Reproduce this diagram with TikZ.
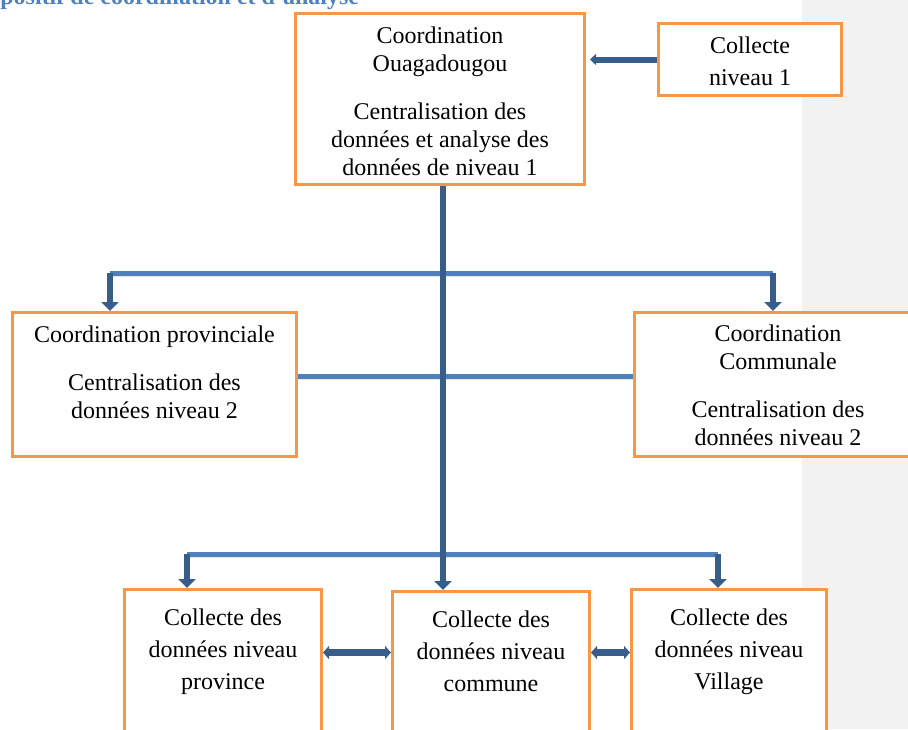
\documentclass[tikz,border=0pt]{standalone}
\usepackage{fontspec}
\setmainfont{Liberation Serif}
\usepackage{tikz}
\usetikzlibrary{arrows.meta,positioning}
\usepackage{xcolor}
\definecolor{boxorange}{HTML}{F79646}
\definecolor{darkblue}{HTML}{385D8A}
\definecolor{lightblue}{HTML}{4F81BD}
\definecolor{titleblue}{HTML}{4F81BD}
\definecolor{stripgray}{HTML}{F2F2F2}
\tikzstyle{orangebox} = [draw=boxorange, fill=white, line width=1.5pt,
    rectangle, anchor=north west, inner sep=0]
\tikzstyle{boxtext} = [align=center, inner sep=0, font=\fontsize{12}{14}\selectfont]
\tikzstyle{collecttext} = [align=center, inner sep=0, font=\fontsize{12}{16}\selectfont]
\tikzstyle{bluelink} = [draw=lightblue, line width=2.5pt,
    preaction={draw=black!10, transform canvas={yshift=-1.5pt}}]
\tikzstyle{darkarrow} = [draw=darkblue, line width=3pt, -{Triangle[width=8.5pt,length=4.5pt]}]
\tikzstyle{sidearrow} = [draw=darkblue, line width=3pt, -{Triangle[width=5.5pt,length=3pt]}]
\tikzstyle{darklink} = [draw=darkblue, line width=3.25pt,
    {Triangle[width=6.5pt,length=3pt]}-{Triangle[width=6.5pt,length=3pt]}]
\tikzstyle{fancytitle} = [anchor=base west, inner sep=0, text=titleblue,
    font=\fontsize{12}{14}\selectfont\bfseries]

\begin{document}
\begin{tikzpicture}[x=0.5pt, y=-0.5pt]
    \useasboundingbox (0,0) rectangle (908,729);
    \fill[stripgray] (802,0) rectangle (908,729);
    \node[fancytitle] (title) at (0,4.5) {positif de coordination et d'analyse};

    \node[orangebox, minimum width=144.5pt, minimum height=85.5pt] (ouaga) at (294,12) {};
    \node[orangebox, minimum width=91.5pt, minimum height=36pt] (coll1) at (657,22) {};
    \node[orangebox, minimum width=142pt, minimum height=72pt] (prov) at (11,311) {};
    \node[orangebox, minimum width=143.5pt, minimum height=72pt] (commun) at (633,311) {};
    \node[orangebox, minimum width=98.5pt, minimum height=96pt] (bprov) at (123,588) {};
    \node[orangebox, minimum width=98.5pt, minimum height=95pt] (bcomm) at (391,590) {};
    \node[orangebox, minimum width=97.5pt, minimum height=96pt] (bvill) at (630,588) {};

    \node[boxtext, below=7.3pt] at (ouaga.north) {Coordination\\Ouagadougou\\[10pt]
        Centralisation des\\données et analyse des\\données de niveau 1};
    \node[collecttext, below=7.3pt] at (coll1.north) {Collecte\\niveau 1};
    \node[boxtext, below=7.3pt] at (prov.north) {Coordination provinciale\\[10pt]
        Centralisation des\\données niveau 2};
    \node[boxtext, below=6.8pt] at (commun.north) {Coordination\\Communale\\[10pt]
        Centralisation des\\données niveau 2};
    \node[collecttext, below=10.3pt] at (bprov.north) {Collecte des\\données niveau\\province};
    \node[collecttext, below=10.3pt] at (bcomm.north) {Collecte des\\données niveau\\commune};
    \node[collecttext, below=10.3pt] at (bvill.north) {Collecte des\\données niveau\\Village};

    \coordinate (trunk) at (443,0);
    \coordinate (splitL) at (110,273);
    \coordinate (splitR) at (773,273);
    \coordinate (lowL) at (187,554);
    \coordinate (lowR) at (718,554);

    \draw[bluelink] (splitL) -- (splitR);
    \draw[bluelink] ([yshift=4pt]prov.east) -- ([yshift=4pt]prov.east -| commun.west);
    \draw[bluelink] (lowL) -- (lowR);
    \draw[darkarrow] (splitL) -- (splitL |- prov.north);
    \draw[darkarrow] (splitR) -- (splitR |- commun.north);
    \draw[darkarrow] (lowL) -- (lowL |- bprov.north);
    \draw[darkarrow] (lowR) -- (lowR |- bvill.north);
    \draw[darkarrow] (ouaga.south -| trunk) -- (bcomm.north -| trunk);
    \draw[sidearrow, shorten >=2pt] (coll1.west) -- (coll1.west -| ouaga.east);
    \draw[darklink] ([yshift=16.5pt]bprov.east) -- ([yshift=16.5pt]bprov.east -| bcomm.west);
    \draw[darklink] ([yshift=17pt]bcomm.east) -- ([yshift=17pt]bcomm.east -| bvill.west);
\end{tikzpicture}
\end{document}
